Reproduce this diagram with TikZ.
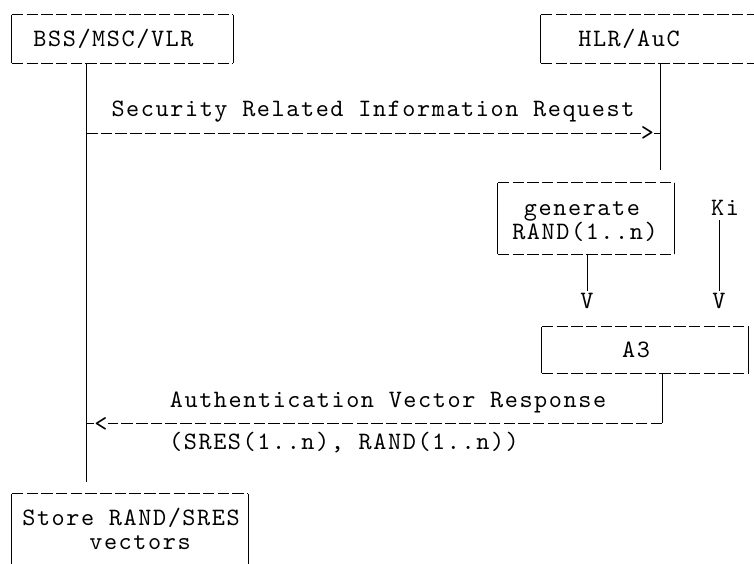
\documentclass[tikz,border=0pt]{standalone}
\usepackage{fontspec}
\setmonofont{lmmono10-regular.otf}[LetterSpace=6.3]
\usetikzlibrary{calc}
\newcommand{\linecolor}{black}
\newcommand{\thickness}{0.9pt}
\newcommand{\charsize}{25}
\tikzset{
  ascii/.style={font=\ttfamily\fontsize{\charsize}{24}\selectfont, inner sep=0pt},
  lbl/.style={ascii, anchor=base},
  dashline/.style={draw=\linecolor, line width=\thickness, dash pattern=on 11.5pt off 3.2pt},
  solidline/.style={draw=\linecolor, line width=\thickness},
  asciibox/.style={inner sep=0pt}
}
\newcommand{\asciiedges}[1]{%
  \draw[dashline] (#1.north west) -- (#1.north east);
  \draw[dashline] (#1.south west) -- (#1.south east);
  \draw[solidline] (#1.north west) -- (#1.south west);
  \draw[solidline] (#1.north east) -- (#1.south east);}

\begin{document}
\begin{tikzpicture}[x=1pt, y=-1pt]
\useasboundingbox (0,0) rectangle (754,564);
\clip (0,0) rectangle (754,564);
%boxes
\node[asciibox, minimum width=221pt, minimum height=48pt] (bss) at (122.5, 39) {};
\node[asciibox, minimum width=229pt, minimum height=48pt] (hlr) at (655.5, 39) {};
\node[asciibox, minimum width=176pt, minimum height=71pt] (gen) at (586, 218.5) {};
\node[asciibox, minimum width=206pt, minimum height=46pt] (athree) at (645, 350) {};
\node[asciibox, minimum width=236pt, minimum height=96pt] (store) at (130, 542) {};
\asciiedges{bss}
\asciiedges{hlr}
\asciiedges{gen}
\asciiedges{athree}
\asciiedges{store}
%texts
\node[lbl] (bssName) at (113.5, 47) {BSS/MSC/VLR};
\node[lbl] (hlrName) at (629, 47) {HLR/AuC};
\node[lbl] (reqLabel) at (373, 117) {Security Related Information Request};
\node[lbl] (genLine1) at (582, 215) {generate};
\node[lbl] (genLine2) at (585, 239) {RAND(1..n)};
\node[lbl] (ki) at (725, 215) {Ki};
\node[lbl] (athreeName) at (636, 357) {A3};
\node[lbl] (respLabel) at (388, 407) {Authentication Vector Response};
\node[lbl] (respParams) at (344, 449) {(SRES(1..n), RAND(1..n))};
\node[lbl] (storeLine1) at (131, 525) {Store RAND/SRES};
\node[lbl] (storeLine2) at (140, 549) {vectors};
%heads
\node[lbl] (reqHead) at (647.5, 141) {>};
\node[lbl] (respHead) at (101, 431) {<};
\node[lbl] (vGen) at (587, 308) {V};
\node[lbl] (vKi) at (719, 308) {V};
%lifelines
\coordinate (bssFoot) at (86, 482);
\coordinate (hlrFoot) at (660, 170);
\draw[solidline] (bss.south -| bssFoot) -- (bssFoot);
\draw[solidline] (hlr.south -| hlrFoot) -- (hlrFoot);
%request
\coordinate (reqFrom) at (86, 133);
\coordinate (reqTo) at (660, 133);
\draw[dashline] (reqFrom) -- (reqHead.west |- reqFrom);
\draw[solidline] (reqHead.east |- reqTo) -- (reqTo);
%A3 inputs
\draw[solidline] (gen.south -| vGen) -- ([yshift=2pt]vGen.north);
\draw[solidline] ([yshift=-5pt]ki.south -| vKi) -- ([yshift=2pt]vKi.north);
%response
\coordinate (respCorner) at (662, 423);
\coordinate (respTo) at (86, 423);
\draw[solidline] (athree.south -| respCorner) -- (respCorner);
\draw[dashline] (respCorner) -- (respHead.east |- respCorner);
\draw[solidline] (respHead.west |- respTo) -- (respTo);
\end{tikzpicture}
\end{document}
